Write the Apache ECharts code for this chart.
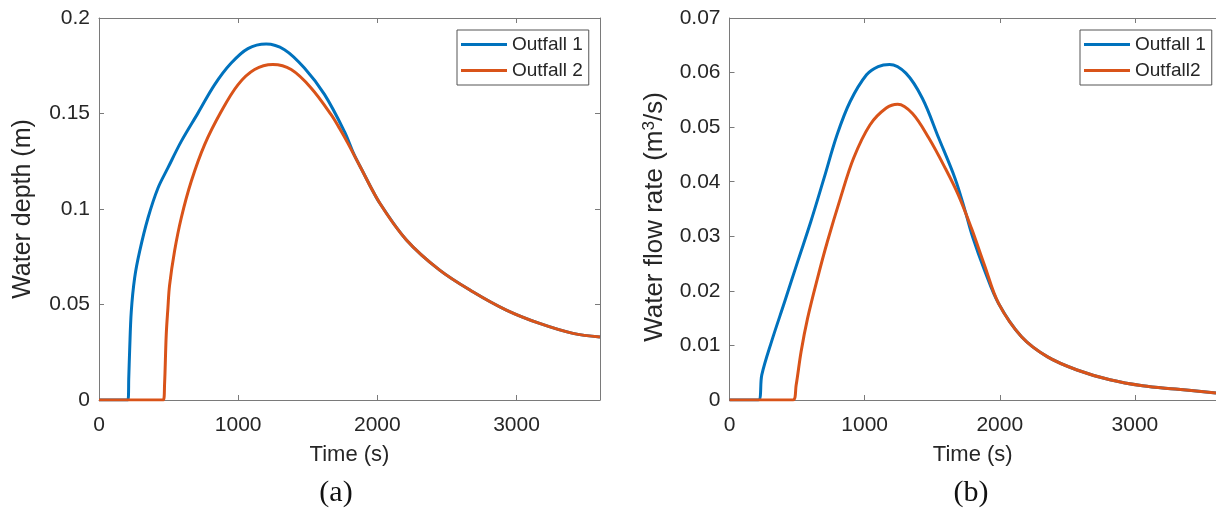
<!DOCTYPE html>
<html><head><meta charset="utf-8">
<script src="https://cdn.jsdelivr.net/npm/echarts@6/dist/echarts.min.js"></script>
<style>html,body{margin:0;padding:0;background:#fff}#c{width:1216px;height:509px}</style>
</head><body><div id="c"></div>
<script>
// ---- data ----
const seriesNamesA = ['Outfall 1', 'Outfall 2'];
const seriesNamesB = ['Outfall 1', 'Outfall2'];
const xTickLabels = ['0', '1000', '2000', '3000'];

// Panel (a): water depth (m)
const depthTime1 = [0, 208, 214, 220, 232, 256, 292, 352, 424, 495, 591, 711, 830, 950, 1070, 1201, 1333, 1476, 1620, 1764, 1830, 1900, 1960, 2018, 2209, 2448, 2686, 2927, 3166, 3406, 3600];
const depthOut1  = [0, 0, 0.012, 0.0255, 0.0464, 0.0639, 0.0778, 0.0953, 0.111, 0.1215, 0.1354, 0.1502, 0.165, 0.1764, 0.184, 0.1864, 0.1834, 0.1738, 0.160, 0.1405, 0.129, 0.119, 0.1105, 0.103, 0.0838, 0.068, 0.0567, 0.0471, 0.0401, 0.0349, 0.033];
const depthTime2 = [0, 462, 471, 483, 495, 507, 543, 591, 663, 759, 878, 998, 1118, 1249, 1381, 1524, 1668, 1730, 1788, 1874, 2018, 2209, 2448, 2686, 2927, 3166, 3406, 3600];
const depthOut2  = [0, 0, 0.008, 0.034, 0.048, 0.060, 0.078, 0.0953, 0.1145, 0.1337, 0.151, 0.165, 0.173, 0.1756, 0.173, 0.1634, 0.1494, 0.142, 0.1345, 0.1225, 0.103, 0.0838, 0.068, 0.0567, 0.0471, 0.0401, 0.0349, 0.033];

// Panel (b): water flow rate (m^3/s)
const flowTime1 = [0, 214, 239, 311, 408, 505, 602, 699, 796, 893, 1014, 1100, 1184, 1305, 1427, 1548, 1669, 1742, 1800, 1887, 1991, 2161, 2354, 2572, 2815, 3057, 3299, 3600];
const flowOut1  = [0, 0, 0.0046, 0.0107, 0.018, 0.0254, 0.0327, 0.0406, 0.0486, 0.0547, 0.0596, 0.0611, 0.0615, 0.0599, 0.0553, 0.048, 0.0406, 0.0348, 0.0298, 0.0238, 0.0177, 0.0116, 0.0079, 0.0055, 0.0037, 0.0026, 0.0020, 0.0013];
const flowTime2 = [0, 469, 493, 530, 578, 651, 724, 821, 918, 1039, 1160, 1245, 1354, 1475, 1596, 1693, 1790, 1887, 1991, 2161, 2354, 2572, 2815, 3057, 3299, 3600];
const flowOut2  = [0, 0, 0.0027, 0.0089, 0.015, 0.0223, 0.029, 0.037, 0.0443, 0.0504, 0.0535, 0.0542, 0.0525, 0.048, 0.0425, 0.0376, 0.0315, 0.0247, 0.0177, 0.0116, 0.0079, 0.0055, 0.0037, 0.0026, 0.0020, 0.0013];

// ---- chart ----
const BLUE = '#0072BD', ORANGE = '#D95319';
const AX = '#7a7a7a', TXT = '#262626', FONT = 'Liberation Sans, Arial, sans-serif';
const zip = (t, v) => t.map((x, i) => [x, v[i]]);

function xAxis(gi, pos, label, name) {
  return {
    type: 'value', gridIndex: gi, position: pos, min: 0, max: 3600, interval: 1000,
    axisLine: { show: true, onZero: false, lineStyle: { color: AX, width: 1 } },
    axisTick: { show: true, inside: true, length: 5, lineStyle: { color: AX } },
    axisLabel: { show: label, fontSize: 21, color: TXT, fontFamily: FONT, margin: 15, showMaxLabel: false,
      formatter: v => xTickLabels[Math.round(v / 1000)] || '' },
    splitLine: { show: false },
    name: name || '', nameLocation: 'middle', nameGap: 44,
    nameTextStyle: { fontSize: 22, color: TXT, fontFamily: FONT }
  };
}
function yAxis(gi, pos, label, max, interval, name, gap, extra, hidden) {
  return {
    type: 'value', gridIndex: gi, position: pos, min: 0, max: max, interval: interval, show: !hidden,
    axisLine: { show: true, onZero: false, lineStyle: { color: AX, width: 1 } },
    axisTick: { show: true, inside: true, length: 5, lineStyle: { color: AX } },
    axisLabel: { show: label, fontSize: 21, color: TXT, fontFamily: FONT, margin: 9 },
    splitLine: { show: false },
    name: name || '', nameLocation: 'middle', nameGap: gap || 0,
    nameTextStyle: Object.assign({ fontSize: 25, color: TXT, fontFamily: FONT }, extra || {})
  };
}
function line(name, data, color, xi, yi) {
  return {
    type: 'line', name: name, data: data, xAxisIndex: xi, yAxisIndex: yi,
    showSymbol: false, symbol: 'none', smooth: 0.35,
    lineStyle: { color: color, width: 3 }, itemStyle: { color: color }, z: color === ORANGE ? 3 : 2
  };
}
function legend(left, names) {
  return {
    data: names, left: left, top: 30, orient: 'vertical',
    icon: 'rect', itemWidth: 46, itemHeight: 3, itemGap: 7, itemTextGap: 4,
    padding: [5, 6, 5, 4], borderColor: '#555', borderWidth: 1, backgroundColor: '#fff',
    textStyle: { fontSize: 19, color: TXT, fontFamily: FONT }
  };
}

const flowTitleRich = {
  padding: [0, 16, 0, 0],
  rich: {
    n: { fontSize: 26, color: TXT, fontFamily: FONT, lineHeight: 28 },
    sup: { fontSize: 17, color: TXT, fontFamily: FONT, verticalAlign: 'top', lineHeight: 17 }
  }
};

const chart = echarts.init(document.getElementById('c'), null, { renderer: 'canvas' });
chart.setOption({
  animation: false,
  backgroundColor: '#fff',
  grid: [
    { left: 99, top: 18, width: 501, height: 382, containLabel: false },
    { left: 729.5, top: 18, width: 495, height: 382, containLabel: false }
  ],
  xAxis: [
    xAxis(0, 'bottom', true, 'Time (s)'),
    xAxis(0, 'top', false),
    xAxis(1, 'bottom', true, 'Time (s)'),
    xAxis(1, 'top', false)
  ],
  yAxis: [
    yAxis(0, 'left', true, 0.2, 0.05, 'Water depth (m)', 63),
    yAxis(0, 'right', false, 0.2, 0.05),
    yAxis(1, 'left', true, 0.07, 0.01, '{n|Water flow rate (m}{sup|3}{n|/s)}', 61, flowTitleRich),
    yAxis(1, 'right', false, 0.07, 0.01, '', 0, null, true)
  ],
  legend: [legend(457, seriesNamesA), legend(1080, seriesNamesB)],
  series: [
    line(seriesNamesA[0], zip(depthTime1, depthOut1), BLUE, 0, 0),
    line(seriesNamesA[1], zip(depthTime2, depthOut2), ORANGE, 0, 0),
    line(seriesNamesB[0], zip(flowTime1, flowOut1), BLUE, 2, 2),
    line(seriesNamesB[1], zip(flowTime2, flowOut2), ORANGE, 2, 2)
  ],
  graphic: [
    { type: 'text', x: 336, y: 493, style: { text: '(a)', font: '30px "Liberation Serif", serif', fill: '#111', align: 'center', verticalAlign: 'middle' } },
    { type: 'text', x: 971, y: 493, style: { text: '(b)', font: '30px "Liberation Serif", serif', fill: '#111', align: 'center', verticalAlign: 'middle' } }
  ]
});
</script></body></html>
